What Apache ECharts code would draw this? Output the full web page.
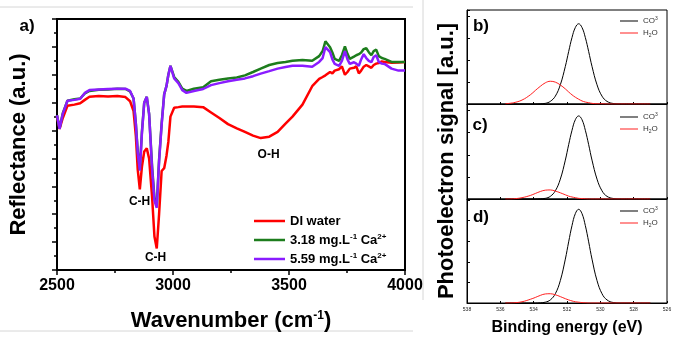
<!DOCTYPE html>
<html lang="en">
<head>
<meta charset="UTF-8">
<title>Reflectance and XPS O1s</title>
<script src="https://cdn.jsdelivr.net/npm/echarts@6/dist/echarts.min.js"></script>
<style>
  html, body { margin: 0; padding: 0; background: #fff; }
  #chart { width: 678px; height: 337px; }
</style>
</head>
<body>
<div id="chart"></div>
<script>
// ---------- panel a) reflectance spectra ----------
const wavenumber = [
  2500, 2511, 2525, 2545, 2575, 2600, 2620, 2640, 2680, 2720,
  2760, 2795, 2815, 2830, 2840, 2848, 2857, 2866, 2876, 2887,
  2897, 2910, 2920, 2930, 2940, 2951, 2962, 2972, 2980, 2989,
  3005, 3023, 3040, 3058, 3090, 3130, 3164, 3200, 3237, 3275,
  3310, 3345, 3378, 3415, 3451, 3485, 3515, 3558, 3600, 3630,
  3645, 3657, 3677, 3687, 3697, 3716, 3728, 3741, 3752, 3762,
  3780, 3790, 3801, 3811, 3822, 3833, 3844, 3855, 3865, 3876,
  3887, 3900, 3912, 3942, 3972, 4000
];
const diWater = [
  5.50, 5.06, 5.45, 5.89, 5.93, 5.98, 6.10, 6.21, 6.24, 6.22,
  6.24, 6.20, 6.05, 5.70, 4.80, 3.60, 2.89, 3.70, 4.25, 4.36,
  4.00, 2.60, 1.20, 0.77, 2.00, 3.55, 3.65, 4.10, 4.60, 5.50,
  5.82, 5.84, 5.86, 5.86, 5.86, 5.84, 5.65, 5.45, 5.23, 5.08,
  4.95, 4.82, 4.73, 4.78, 4.95, 5.25, 5.50, 5.93, 6.59, 6.85,
  6.92, 6.98, 7.10, 7.05, 7.15, 7.20, 7.30, 7.00, 7.10, 7.22,
  7.25, 7.30, 7.05, 7.15, 7.29, 7.35, 7.30, 7.25, 7.35, 7.40,
  7.42, 7.48, 7.46, 7.43, 7.44, 7.46
];
const ca318 = [
  5.55, 5.08, 5.62, 6.07, 6.12, 6.15, 6.33, 6.42, 6.46, 6.47,
  6.50, 6.49, 6.40, 6.15, 5.25, 4.25, 3.60, 4.95, 6.00, 6.21,
  5.60, 3.70, 2.60, 2.30, 3.95, 5.25, 6.30, 6.60, 7.00, 7.32,
  6.92, 6.75, 6.50, 6.42, 6.50, 6.55, 6.77, 6.82, 6.87, 6.90,
  6.98, 7.10, 7.22, 7.35, 7.42, 7.46, 7.50, 7.53, 7.50, 7.67,
  7.85, 8.20, 7.99, 7.80, 7.57, 7.50, 7.70, 8.02, 7.75, 7.57,
  7.65, 7.70, 7.74, 7.80, 7.92, 7.95, 7.81, 7.70, 7.85, 7.90,
  7.67, 7.60, 7.57, 7.46, 7.46, 7.46
];
const ca559 = [
  5.55, 5.06, 5.60, 6.07, 6.10, 6.14, 6.35, 6.45, 6.47, 6.49,
  6.50, 6.50, 6.42, 6.15, 5.20, 4.20, 3.56, 4.90, 6.00, 6.21,
  5.60, 3.60, 2.50, 2.23, 3.90, 5.20, 6.30, 6.60, 7.00, 7.32,
  6.87, 6.70, 6.45, 6.35, 6.42, 6.49, 6.63, 6.70, 6.77, 6.82,
  6.87, 6.95, 7.04, 7.13, 7.22, 7.28, 7.32, 7.32, 7.29, 7.46,
  7.60, 7.99, 7.81, 7.55, 7.39, 7.32, 7.50, 7.85, 7.55, 7.39,
  7.45, 7.40, 7.32, 7.55, 7.74, 7.60, 7.50, 7.45, 7.64, 7.70,
  7.46, 7.40, 7.39, 7.22, 7.15, 7.15
];
// band labels: [text, wavenumber, reflectance]
const bandLabels = [['C-H', 2856, 2.44], ['C-H', 2925, 0.45], ['O-H', 3412, 4.15]];

// ---------- panels b) c) d) XPS O1s fit components ----------
const bindingEnergy = [
  535.7, 535.2, 534.7, 534.2, 533.9, 533.6, 533.3, 533.0, 532.7, 532.4,
  532.1, 531.9, 531.7, 531.5, 531.3, 531.1, 530.9, 530.7, 530.5, 530.2,
  529.9, 529.6, 529.2, 528.8, 528.2, 527.6, 527.0
];
const co3B = [0, 0, 0, 0, 0, 0.01, 0.03, 0.12, 0.36, 0.88, 1.72, 2.40, 3.04, 3.50, 3.67, 3.50, 3.04, 2.40, 1.72, 0.88, 0.36, 0.12, 0.02, 0, 0, 0, 0];
const h2oB = [0.01, 0.06, 0.18, 0.42, 0.62, 0.81, 0.97, 1.04, 1.00, 0.87, 0.69, 0.55, 0.42, 0.31, 0.22, 0.14, 0.09, 0.06, 0.03, 0.01, 0.01, 0, 0, 0, 0, 0, 0];
const co3C = [0, 0, 0, 0, 0, 0.01, 0.03, 0.12, 0.37, 0.90, 1.76, 2.46, 3.11, 3.59, 3.76, 3.59, 3.11, 2.46, 1.76, 0.90, 0.37, 0.12, 0.02, 0, 0, 0, 0];
const h2oC = [0, 0.01, 0.06, 0.16, 0.25, 0.34, 0.40, 0.41, 0.36, 0.28, 0.19, 0.13, 0.09, 0.06, 0.03, 0.02, 0.01, 0, 0, 0, 0, 0, 0, 0, 0, 0, 0];
const co3D = [0, 0, 0, 0, 0, 0.01, 0.04, 0.15, 0.45, 1.09, 2.13, 2.97, 3.76, 4.34, 4.55, 4.34, 3.76, 2.97, 2.13, 1.09, 0.45, 0.15, 0.02, 0, 0, 0, 0];
const h2oD = [0, 0.01, 0.06, 0.18, 0.27, 0.37, 0.44, 0.45, 0.40, 0.31, 0.21, 0.15, 0.10, 0.06, 0.04, 0.02, 0.01, 0, 0, 0, 0, 0, 0, 0, 0, 0, 0];
const beTicks = [526, 538, 2]; // min, max, step

const FONT = '"Liberation Sans", Arial, sans-serif';
const zip = (xs, ys) => xs.map((x, i) => [x, ys[i]]);

const supRich = {
  sup: { fontSize: 8, fontWeight: 'bold', fontFamily: FONT, color: '#000', verticalAlign: 'top', lineHeight: 8 }
};
const legendNames = {
  'DI water': 'DI water',
  '3.18 mg.L-1 Ca2+': '3.18 mg.L{sup|-1} Ca{sup|2+}',
  '5.59 mg.L-1 Ca2+': '5.59 mg.L{sup|-1} Ca{sup|2+}'
};
const xpsNames = { 'CO3': 'CO{s|3}', 'H2O': 'H{b|2}O' };

const chart = echarts.init(document.getElementById('chart'));

// the three XPS panels share almost everything
const xpsGrids = [
  { left: 467, top: 10, width: 200, height: 94 },
  { left: 467, top: 104, width: 200, height: 95 },
  { left: 467, top: 199, width: 200, height: 111 }
];
const xpsMax = [4.3, 4.3, 5.05];
const xpsData = [[co3B, h2oB], [co3C, h2oC], [co3D, h2oD]];

const grids = [{ left: 52, top: 19, width: 353, height: 258, show: true, borderColor: '#000', borderWidth: 2 }]
  .concat(xpsGrids.map(g => Object.assign({ show: true, borderColor: '#000', borderWidth: 1 }, g)));

const xAxes = [{
  type: 'value', gridIndex: 0, min: 2500, max: 4000, interval: 500,
  axisLine: { lineStyle: { color: '#000', width: 2 } },
  axisTick: { length: 5, lineStyle: { width: 1.5 } },
  minorTick: { show: true, splitNumber: 2, length: 3, lineStyle: { color: '#000', width: 1.5 } },
  splitLine: { show: false },
  axisLabel: { color: '#000', fontSize: 16, fontWeight: 'bold', fontFamily: FONT, margin: 8, formatter: v => String(v) },
  name: 'Wavenumber (cm{sup|-1})', nameLocation: 'middle', nameGap: 40,
  nameTextStyle: {
    color: '#000', fontSize: 22, fontWeight: 'bold', fontFamily: FONT,
    rich: { sup: { fontSize: 12, fontWeight: 'bold', fontFamily: FONT, color: '#000', verticalAlign: 'top', lineHeight: 10 } }
  }
}];
const yAxes = [{
  type: 'value', gridIndex: 0, min: 0, max: 9, interval: 1,
  axisLine: { lineStyle: { color: '#000', width: 2 } },
  axisTick: { length: 5, lineStyle: { width: 1.5 } },
  minorTick: { show: true, splitNumber: 2, length: 3, lineStyle: { color: '#000', width: 1.5 } },
  splitLine: { show: false },
  axisLabel: { show: false },
  name: 'Reflectance (a.u.)', nameLocation: 'middle', nameGap: 27, nameRotate: 90,
  nameTextStyle: { color: '#000', fontSize: 22, fontWeight: 'bold', fontFamily: FONT }
}];

xpsGrids.forEach((g, k) => {
  const last = k === xpsGrids.length - 1;
  xAxes.push({
    type: 'value', gridIndex: k + 1, min: beTicks[0], max: beTicks[1], interval: beTicks[2], inverse: true,
    axisLine: { lineStyle: { color: '#000', width: 1 } },
    axisTick: { inside: true, length: 2, lineStyle: { color: '#000' } },
    splitLine: { show: false },
    axisLabel: { show: last, color: '#222', fontSize: 5, fontFamily: FONT, margin: 4 },
    name: last ? 'Binding energy (eV)' : '', nameLocation: 'middle', nameGap: 17,
    nameTextStyle: { color: '#000', fontSize: 16, fontWeight: 'bold', fontFamily: FONT }
  });
  yAxes.push({
    type: 'value', gridIndex: k + 1, min: 0, max: xpsMax[k], interval: 1,
    axisLine: { lineStyle: { color: '#000', width: 1 } },
    axisTick: { inside: true, length: 3, lineStyle: { color: '#000' } },
    splitLine: { show: false },
    axisLabel: { show: false }
  });
});

const series = [
  { name: 'DI water', data: zip(wavenumber, diWater), color: '#ff0000' },
  { name: '3.18 mg.L-1 Ca2+', data: zip(wavenumber, ca318), color: '#1d7d1d' },
  { name: '5.59 mg.L-1 Ca2+', data: zip(wavenumber, ca559), color: '#8a1cff' }
].map(s => ({
  name: s.name, type: 'line', xAxisIndex: 0, yAxisIndex: 0, data: s.data,
  showSymbol: false, color: s.color, lineStyle: { color: s.color, width: 2.5 }
}));

// band assignments anchored to the red curve's axes
series[0].markPoint = {
  symbol: 'circle', symbolSize: 0, silent: true,
  label: { show: true, position: 'inside', color: '#000', fontSize: 12, fontWeight: 'bold', fontFamily: FONT, formatter: p => p.name },
  data: bandLabels.map(b => ({ name: b[0], coord: [b[1], b[2]] }))
};

xpsData.forEach((pair, k) => {
  series.push({
    name: 'CO3', type: 'line', xAxisIndex: k + 1, yAxisIndex: k + 1, data: zip(bindingEnergy, pair[0]),
    showSymbol: false, smooth: 0.4, color: '#000', lineStyle: { color: '#000', width: 1 }
  });
  series.push({
    name: 'H2O', type: 'line', xAxisIndex: k + 1, yAxisIndex: k + 1, data: zip(bindingEnergy, pair[1]),
    showSymbol: false, smooth: 0.4, color: '#ff2020', lineStyle: { color: '#ff2020', width: 1 }
  });
});

const legends = [{
  data: Object.keys(legendNames), orient: 'vertical', left: 249, top: 209,
  icon: 'rect', itemWidth: 31, itemHeight: 2.5, itemGap: 5, selectedMode: false,
  formatter: n => legendNames[n],
  textStyle: { color: '#000', fontSize: 13, fontWeight: 'bold', fontFamily: FONT, lineHeight: 14, rich: supRich }
}];
[11, 107, 201].forEach(top => {
  legends.push({
    data: ['CO3', 'H2O'], orient: 'vertical', left: 615, top: top,
    icon: 'rect', itemWidth: 18, itemHeight: 1, itemGap: 2, selectedMode: false,
    formatter: n => xpsNames[n],
    textStyle: {
      color: '#333', fontSize: 8, fontFamily: FONT, lineHeight: 10,
      rich: {
        s: { fontSize: 5, fontFamily: FONT, color: '#333', verticalAlign: 'top', lineHeight: 5 },
        b: { fontSize: 5, fontFamily: FONT, color: '#333', verticalAlign: 'bottom', lineHeight: 5 }
      }
    }
  });
});

const txt = (x, y, text, size, extra) => Object.assign({
  type: 'text', x: x, y: y, silent: true,
  style: { text: text, fontSize: size, fontWeight: 'bold', fontFamily: FONT, fill: '#000', align: 'center', verticalAlign: 'middle' }
}, extra || {});

chart.setOption({
  animation: false,
  backgroundColor: '#fff',
  grid: grids,
  xAxis: xAxes,
  yAxis: yAxes,
  legend: legends,
  series: series,
  graphic: [
    // faint borders of the pasted sub-figures
    { type: 'line', shape: { x1: 0, y1: 7, x2: 413, y2: 7 }, style: { stroke: '#d6d6d6', lineWidth: 1 }, silent: true },
    { type: 'line', shape: { x1: 0, y1: 331, x2: 413, y2: 331 }, style: { stroke: '#d6d6d6', lineWidth: 1 }, silent: true },
    { type: 'line', shape: { x1: 423, y1: 0, x2: 423, y2: 300 }, style: { stroke: '#d6d6d6', lineWidth: 1 }, silent: true },
    txt(27, 26, 'a)', 17),
    txt(481, 26, 'b)', 17),
    txt(480, 125, 'c)', 17),
    txt(481, 217, 'd)', 17),
    txt(447, 161, 'Photoelectron signal [a.u.]', 22, { rotation: Math.PI / 2 })
  ]
});
</script>
</body>
</html>
